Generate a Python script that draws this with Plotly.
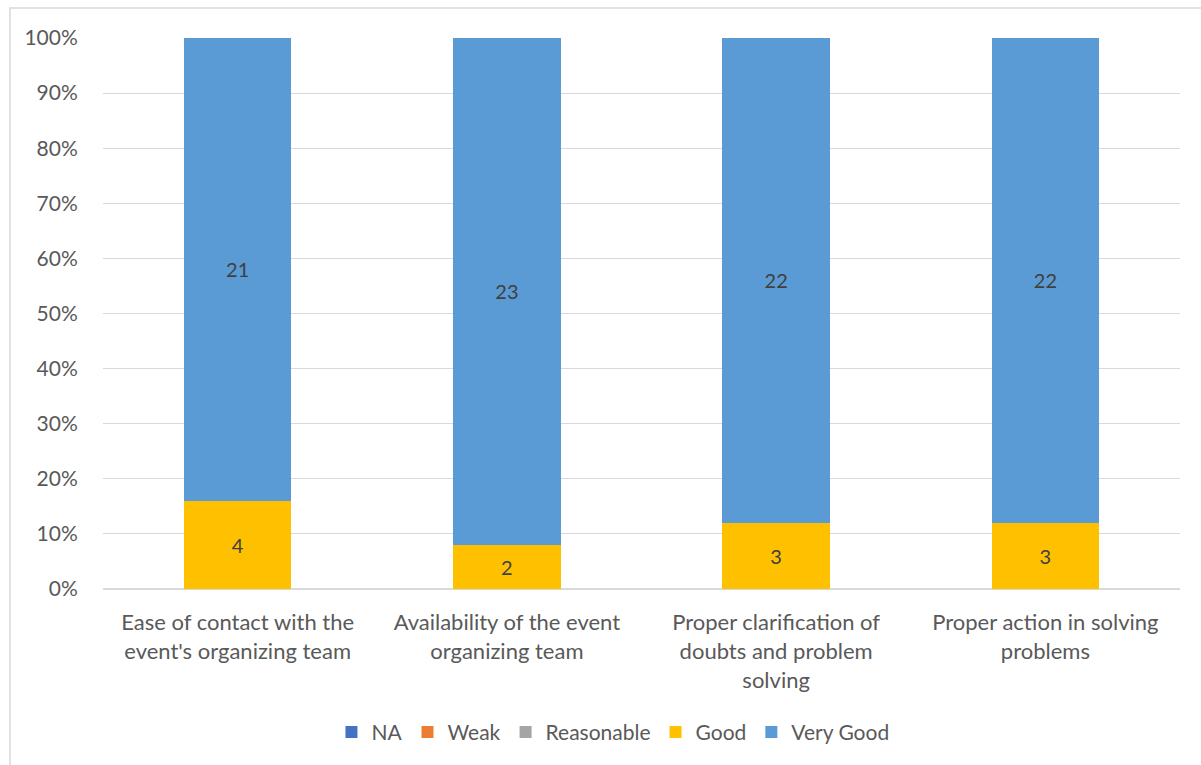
import plotly.graph_objects as go

categories = [
    "Ease of contact with the<br>event's organizing team",
    "Availability of the event<br>organizing team",
    "Proper clarification of<br>doubts and problem<br>solving",
    "Proper action in solving<br>problems",
]
series_names = ["NA", "Weak", "Reasonable", "Good", "Very Good"]
na_vals = [0, 0, 0, 0]
weak_vals = [0, 0, 0, 0]
reasonable_vals = [0, 0, 0, 0]
good_vals = [4, 2, 3, 3]
very_good_vals = [21, 23, 22, 22]
colors = ["#4472C4", "#ED7D31", "#A5A5A5", "#FFC000", "#5B9BD5"]

all_vals = [na_vals, weak_vals, reasonable_vals, good_vals, very_good_vals]

FONT = "Lato"
TXT = "#595959"

fig = go.Figure()
for name, vals, col in zip(series_names, all_vals, colors):
    show_text = any(v > 0 for v in vals)
    fig.add_trace(go.Bar(
        name=name, x=categories, y=vals, marker_color=col,
        marker_line_width=0,
        text=[str(v) if v > 0 else "" for v in vals] if show_text else None,
        textposition="inside", insidetextanchor="middle",
        textfont=dict(family=FONT, size=20, color="#404040"),
        constraintext="none",
    ))

fig.update_layout(
    barmode="stack", barnorm="percent", bargap=0.6,
    width=1201, height=765,
    margin=dict(l=103, r=21, t=38, b=176),
    plot_bgcolor="white", paper_bgcolor="white",
    font=dict(family=FONT, size=21, color=TXT),
    legend=dict(orientation="h", x=0.4735, xanchor="center", y=-0.26, yanchor="middle",
                font=dict(family=FONT, size=21, color=TXT), traceorder="normal",
                itemwidth=30),
    xaxis=dict(showgrid=False, showline=False, ticks="outside", ticklen=14,
               tickcolor="rgba(0,0,0,0)", tickfont=dict(family=FONT, size=22, color=TXT)),
    yaxis=dict(range=[0, 100], dtick=10, ticksuffix="%", showgrid=True, gridcolor="#D9D9D9",
               gridwidth=1, zeroline=True, zerolinecolor="#D9D9D9", ticks="outside",
               ticklen=20, tickcolor="rgba(0,0,0,0)", tickfont=dict(family=FONT, size=21, color=TXT)),
    shapes=[dict(type="rect", xref="paper", yref="paper",
                 x0=-93/1077, x1=1.2, y0=-0.5, y1=(589-8)/551,
                 line=dict(color="#D9D9D9", width=1.5), fillcolor="rgba(0,0,0,0)", layer="below")],
)

fig.write_html("out.html")
